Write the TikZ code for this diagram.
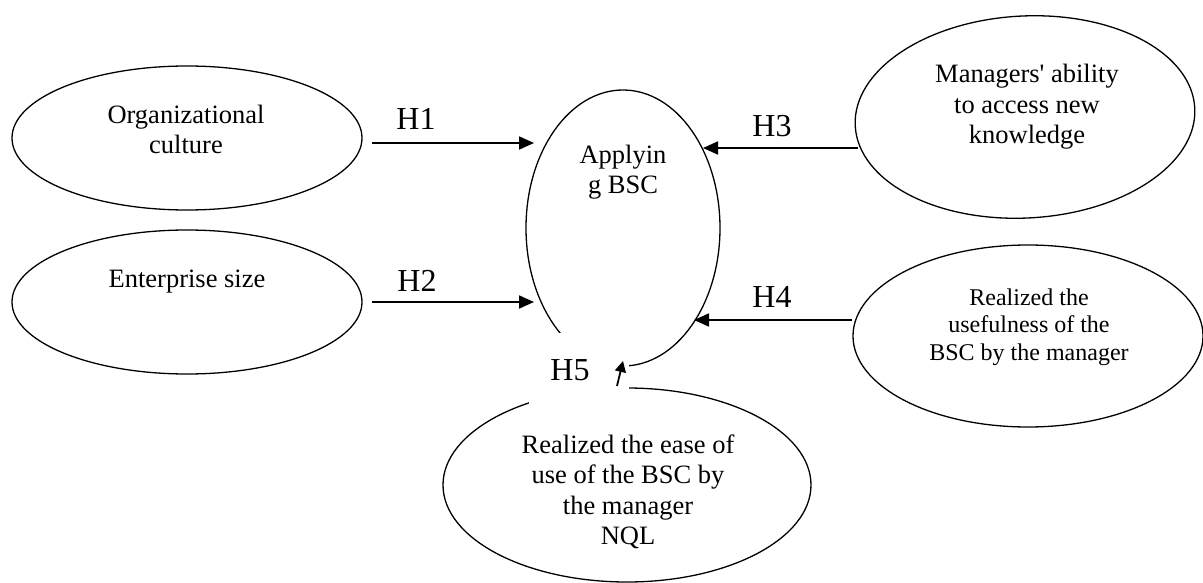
\documentclass[tikz,border=0pt]{standalone}
\usepackage{fontspec}
\setmainfont{Liberation Serif}[Ligatures=TeXOff]
\usetikzlibrary{shapes.geometric,arrows.meta}
\begin{document}
\begin{tikzpicture}[x=1pt,y=-1pt,
  oval/.style={draw,ellipse,line width=1.3pt,inner sep=0pt},
  lbl/.style={align=center,anchor=base,inner sep=0pt,font=\fontsize{26.5}{30.5}\selectfont},
  slbl/.style={align=center,anchor=base,inner sep=0pt,font=\fontsize{24}{27.5}\selectfont},
  hlbl/.style={anchor=base,inner sep=0pt,font=\fontsize{32}{36}\selectfont},
  arr/.style={line width=1.8pt,-{Triangle[length=15pt,width=13pt]}}]
\useasboundingbox (0,0) rectangle (1203,583);
% ellipses
\node[oval,minimum width=350pt,minimum height=144pt] (org) at (187,138) {};
\node[oval,minimum width=350pt,minimum height=144pt] (size) at (187,302) {};
\node[oval,minimum width=194pt,minimum height=276pt] (apply) at (623,228) {};
\node[oval,minimum width=340pt,minimum height=202pt,rotate=3] (access) at (1025,117) {};
\node[oval,minimum width=350pt,minimum height=182pt] (useful) at (1028,336) {};
\node[oval,minimum width=368pt,minimum height=194pt] (ease) at (627,485) {};
% texts
\node[lbl] (orgT) at (186,153.5) {Organizational\\culture};
\node[lbl] (sizeT) at (187,287) {Enterprise size};
\node[lbl] (applyT) at (623,193.5) {Applyin\\g BSC};
\node[lbl] (accessT) at (1027,144) {Managers' ability\\to access new\\knowledge};
\node[slbl] (usefulT) at (1029,360) {Realized the\\usefulness of the\\BSC by the manager};
\node[lbl] (easeT) at (628,544.5) {Realized the ease of\\use of the BSC by\\the manager\\NQL};
% white label box for H5
\node[fill=white,inner sep=0pt,minimum width=100pt,minimum height=75pt] (h5box) at (579,370.5) {};
% hypothesis labels
\node[hlbl] (h1) at (416,130) {H1};
\node[hlbl] (h2) at (417,291) {H2};
\node[hlbl] (h3) at (772,137) {H3};
\node[hlbl] (h4) at (772,307) {H4};
\node[hlbl] (h5) at (570,380) {H5};
% connector end points
\coordinate (a1s) at (372,143); \coordinate (a1e) at (534,143);
\coordinate (a2s) at (372,302); \coordinate (a2e) at (534,302);
\coordinate (a3s) at (858,148); \coordinate (a3e) at (703,148);
\coordinate (a4s) at (852,320); \coordinate (a4e) at (694,320);
\coordinate (a5s) at (617,386); \coordinate (a5e) at (623,361);
\draw[arr] (a1s) -- (a1e);
\draw[arr] (a2s) -- (a2e);
\draw[arr] (a3s) -- (a3e);
\draw[arr] (a4s) -- (a4e);
\draw[line width=1.8pt,-{Triangle[length=11pt,width=11pt]}] (a5s) -- (a5e);
\end{tikzpicture}
\end{document}
